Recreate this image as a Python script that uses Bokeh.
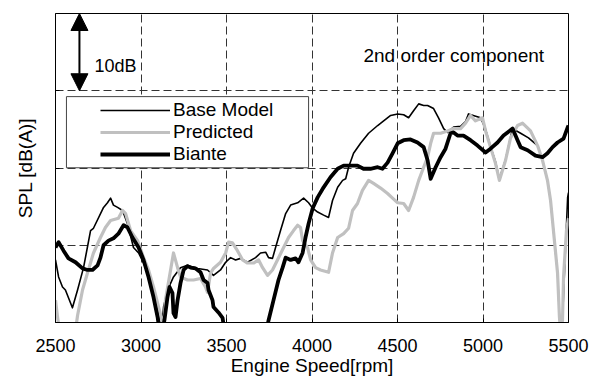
from bokeh.plotting import figure
from bokeh.models import (Range1d, FixedTicker, Legend, LegendItem, BoxAnnotation,
                          Label, Arrow, NormalHead, CustomJSTickFormatter)
from bokeh.embed import file_html
from bokeh.resources import INLINE

# ---------------- data ----------------
x_ticks = [2500, 3000, 3500, 4000, 4500, 5000, 5500]
y_grid = [50, 60, 70]

base_rpm = [2500, 2518, 2541, 2558, 2599, 2629, 2664, 2705, 2722, 2781,
            2804, 2822, 2839, 2863, 2892, 2921, 2956, 2986, 3015, 3056,
            3085, 3103, 3120, 3132, 3155, 3190, 3231, 3272, 3331, 3389,
            3424, 3465, 3495, 3524, 3553, 3582, 3623, 3670, 3699, 3729,
            3746, 3769, 3787, 3816, 3846, 3875, 3916, 3951, 3980, 4004,
            4033, 4068, 4097, 4120, 4150, 4179, 4197, 4214, 4243, 4284,
            4331, 4384, 4419, 4460, 4501, 4536, 4565, 4594, 4624, 4653,
            4676, 4711, 4740, 4770, 4793, 4828, 4869, 4898, 4915, 4986,
            5000, 5015, 5044, 5073, 5096, 5132, 5161, 5173, 5220, 5266,
            5319, 5348, 5377, 5395, 5412, 5436, 5447, 5453, 5465, 5477,
            5495, 5500]
base_db = [48.1, 45.9, 44.6, 44.2, 41.9, 44.2, 47.1, 51.9, 52.2, 54.9,
           55.5, 56.1, 55.2, 54.9, 54.5, 52.8, 49.7, 49.0, 47.7, 45.5,
           43.3, 40.7, 39.0, 42.0, 44.2, 45.9, 47.1, 47.4, 47.0, 46.8,
           46.1, 46.8, 47.8, 48.4, 48.1, 48.3, 47.8, 48.4, 49.0, 49.1,
           48.4, 48.3, 49.7, 51.9, 54.1, 55.2, 55.5, 56.1, 55.5, 54.8,
           54.3, 53.9, 53.6, 55.8, 57.5, 58.4, 58.6, 60.1, 61.9, 63.2,
           64.5, 65.5, 66.1, 66.8, 67.0, 66.9, 66.5, 67.4, 68.3, 68.1,
           68.1, 67.7, 66.5, 65.1, 64.6, 65.3, 65.4, 66.0, 67.0, 66.5,
           65.8, 65.0, 62.8, 60.8, 58.6, 61.1, 64.0, 65.1, 64.5, 63.9,
           62.9, 61.0, 58.4, 55.8, 51.9, 46.4, 40.7, 39.0, 40.3, 46.8,
           56.2, 56.8]

pred_rpm = [2500, 2512, 2523, 2617, 2629, 2658, 2687, 2722, 2763, 2792,
            2822, 2868, 2892, 2910, 2939, 2980, 3015, 3044, 3073, 3103,
            3126, 3132, 3143, 3173, 3190, 3214, 3231, 3272, 3307, 3348,
            3377, 3389, 3407, 3424, 3465, 3495, 3512, 3535, 3564, 3594,
            3623, 3658, 3688, 3711, 3740, 3769, 3798, 3834, 3863, 3892,
            3916, 3933, 3945, 3974, 3992, 4021, 4050, 4097, 4120, 4150,
            4185, 4214, 4237, 4266, 4295, 4331, 4360, 4401, 4442, 4471,
            4501, 4536, 4565, 4594, 4624, 4653, 4676, 4694, 4711, 4752,
            4793, 4828, 4869, 4898, 4927, 4956, 4997, 5015, 5044, 5073,
            5096, 5132, 5161, 5202, 5231, 5278, 5319, 5348, 5377, 5395,
            5412, 5436, 5447, 5453, 5465, 5471, 5488, 5500]
pred_db = [42.9, 40.7, 39.0, 39.0, 40.9, 44.2, 46.4, 49.0, 51.0, 52.3,
           53.2, 53.5, 54.5, 54.1, 51.9, 50.6, 48.4, 46.8, 44.6, 42.0,
           40.0, 39.0, 42.9, 46.8, 49.0, 47.1, 45.9, 45.5, 45.5, 45.7,
           44.6, 43.9, 46.4, 47.0, 47.8, 49.0, 50.4, 50.3, 49.3, 48.1,
           47.7, 47.7, 48.1, 47.1, 46.1, 46.8, 48.1, 49.7, 51.0, 51.9,
           52.6, 52.3, 50.6, 49.7, 48.1, 47.1, 46.8, 46.5, 49.0, 51.0,
           51.5, 52.2, 54.5, 55.4, 57.1, 58.4, 58.0, 57.4, 56.7, 56.1,
           55.5, 55.4, 54.5, 56.2, 58.4, 60.1, 61.4, 63.2, 64.5, 64.5,
           64.8, 65.1, 65.1, 65.8, 66.8, 66.1, 66.5, 64.8, 62.7, 60.6,
           58.4, 61.0, 63.9, 65.5, 65.8, 64.8, 62.9, 61.0, 58.4, 55.8,
           51.9, 46.4, 40.7, 39.0, 40.3, 45.9, 51.9, 53.5]

biante_rpm = [2500, 2518, 2547, 2576, 2617, 2658, 2687, 2716, 2746, 2763,
              2781, 2810, 2839, 2868, 2898, 2921, 2950, 2986, 3015, 3044,
              3073, 3097, 3108, 3126, 3137, 3155, 3167, 3184, 3190, 3202,
              3214, 3231, 3249, 3272, 3290, 3319, 3348, 3366, 3389, 3395,
              3418, 3424, 3453, 3477, 3488, 3734, 3746, 3775, 3804, 3828,
              3846, 3875, 3904, 3921, 3945, 3962, 3980, 4004, 4033, 4068,
              4108, 4150, 4185, 4225, 4266, 4301, 4342, 4384, 4412, 4442,
              4471, 4501, 4536, 4576, 4617, 4653, 4676, 4694, 4723, 4752,
              4781, 4810, 4828, 4851, 4886, 4927, 4968, 5015, 5044, 5085,
              5120, 5173, 5202, 5220, 5261, 5307, 5348, 5377, 5407, 5436,
              5471, 5494, 5500]
biante_db = [49.7, 50.4, 49.3, 48.3, 47.8, 47.0, 46.8, 46.8, 47.4, 48.4,
             50.0, 50.6, 50.9, 51.5, 52.6, 52.3, 51.0, 49.7, 48.1, 45.9,
             43.3, 40.7, 39.0, 39.0, 40.3, 43.3, 44.6, 43.8, 41.2, 40.7,
             42.9, 45.1, 46.8, 47.3, 47.1, 47.0, 46.5, 45.5, 45.1, 44.2,
             42.9, 42.0, 41.3, 40.6, 39.0, 39.0, 40.3, 42.9, 45.5, 47.1,
             48.4, 48.1, 48.3, 47.8, 49.0, 51.0, 52.8, 54.8, 56.2, 57.5,
             58.8, 59.9, 60.3, 60.3, 60.3, 59.9, 59.9, 60.1, 59.9, 60.7,
             61.9, 63.2, 63.6, 63.7, 63.3, 62.7, 61.0, 58.6, 60.1, 61.4,
             62.5, 64.5, 64.6, 64.2, 64.2, 63.6, 62.9, 62.0, 62.5, 63.3,
             64.2, 65.1, 63.6, 62.7, 62.3, 61.6, 61.4, 61.9, 62.7, 63.3,
             63.8, 65.2, 65.5]

series_names = ["Base Model", "Predicted", "Biante"]

# ---------------- figure ----------------
FONT = "Liberation Sans"

p = figure(width=597, height=379, output_backend="svg", toolbar_location=None,
           x_range=Range1d(2500, 5500), y_range=Range1d(40, 80),
           min_border_left=55, min_border_right=29, min_border_top=13,
           min_border_bottom=57)
p.background_fill_color = "white"
p.border_fill_color = "white"
p.outline_line_color = "black"
p.outline_line_width = 1
p.outline_line_alpha = 1

# axes
p.xaxis.ticker = FixedTicker(ticks=x_ticks)
p.yaxis.ticker = FixedTicker(ticks=y_grid)
p.yaxis.formatter = CustomJSTickFormatter(code="return ''")
for ax in (p.xaxis[0], p.yaxis[0]):
    ax.axis_line_color = "black"
    ax.major_tick_line_color = "black"
    ax.major_tick_in = 4
    ax.major_tick_out = 0
    ax.minor_tick_line_color = None
    ax.major_label_text_font = FONT
    ax.major_label_text_color = "black"
    ax.axis_label_text_font = FONT
    ax.axis_label_text_font_style = "normal"
    ax.axis_label_text_color = "black"
    ax.axis_label_text_font_size = "19px"

p.xaxis.major_label_text_font_size = "18px"
p.xaxis.major_label_standoff = 16
p.xaxis.axis_label = "Engine Speed[rpm]"
p.xaxis.axis_label_standoff = 0
p.yaxis.major_label_text_font_size = "0px"
p.yaxis.major_label_standoff = 0
p.yaxis.axis_label = "SPL [dB(A)]"
p.yaxis.axis_label_standoff = 20

# grid
for g in (p.xgrid[0], p.ygrid[0]):
    g.grid_line_color = "#333333"
    g.grid_line_dash = "8 4"
    g.grid_line_width = 1

# lines
r_base = p.line(base_rpm, base_db, line_color="black", line_width=1.6,
                line_join="round")
r_pred = p.line(pred_rpm, pred_db, line_color="#c0c0c0", line_width=3.2,
                line_join="round")
r_bia = p.line(biante_rpm, biante_db, line_color="black", line_width=3.8,
               line_join="round")

# legend box and legend
box = BoxAnnotation(left=2564, right=3980, top=69.24, bottom=60.03,
                    fill_color="white", fill_alpha=1.0,
                    line_color="#444444", line_alpha=1.0, line_width=1)
p.add_layout(box)

legend = Legend(items=[LegendItem(label=series_names[0], renderers=[r_base]),
                       LegendItem(label=series_names[1], renderers=[r_pred]),
                       LegendItem(label=series_names[2], renderers=[r_bia])],
                location=(43, 155), margin=0, padding=2, spacing=0,
                glyph_width=70, glyph_height=22, label_height=22,
                label_standoff=3, label_text_font=FONT,
                label_text_font_size="19px", label_text_color="black",
                border_line_alpha=0, background_fill_alpha=0)
p.add_layout(legend)

# annotations
p.add_layout(Label(x=4301, y=74.5, text="2nd order component",
                   text_font=FONT, text_font_size="19px", text_color="black",
                   text_baseline="alphabetic"))
p.add_layout(Label(x=2728, y=73.24, text="10dB", text_font=FONT,
                   text_font_size="18px", text_color="black",
                   text_baseline="alphabetic"))
p.add_layout(Arrow(x_start=2640, y_start=70, x_end=2640, y_end=80,
                   line_color="black", line_width=2,
                   start=NormalHead(size=17, fill_color="black", line_color="black"),
                   end=NormalHead(size=17, fill_color="black", line_color="black")))

open("out.html", "w").write(file_html(p, INLINE))
